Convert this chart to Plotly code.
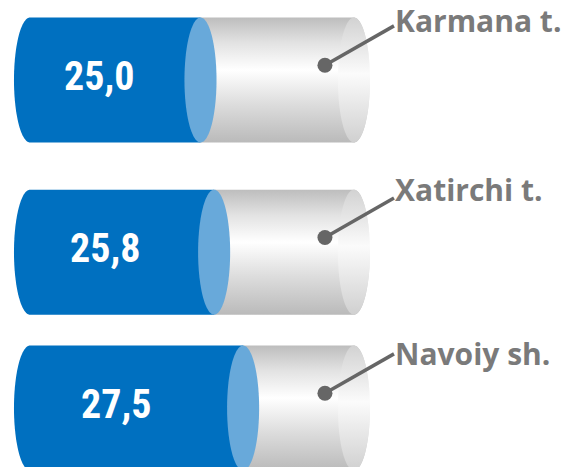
import numpy as np
import plotly.graph_objects as go

# ---- data ----
categories = ["Karmana t.", "Xatirchi t.", "Navoiy sh."]
values = [25.0, 25.8, 27.5]
scale_min = 15.0   # value at the left end of each cylinder
scale_max = 34.0   # value at the right end of each cylinder

# ---- style / layout ----
BLUE = "#0070C0"
BLUE_CAP = "#68a9da"
LEADER = "#666666"
LABEL_COLOR = "#7a7a7a"
ROW_NUDGE = [0.0, 0.05, 0.0]
LABEL_DY = [-0.36, -0.38, -0.33]
RX = 0.94      # ellipse half-width (x units)
RY = 0.381     # cylinder half-height (row units)
GREY_SCALE = [[0, "#bababa"], [0.30, "#dcdcdc"], [0.58, "#ffffff"], [0.80, "#e2e2e2"], [1, "#bdbdbd"]]
CAP_SCALE = [[0, "#d0d0d0"], [0.55, "#fbfbfb"], [1, "#d2d2d2"]]


def arc(cx, cy, t0, t1, n=80):
    t = np.linspace(t0, t1, n)
    return list(cx + RX * np.cos(t)), list(cy + RY * np.sin(t))


fig = go.Figure()

for i, (cat, v) in enumerate(zip(categories, values)):
    cy = i + ROW_NUDGE[i]
    top, bot = cy - RY, cy + RY
    xl, xb, xr = scale_min, v, scale_max

    # grey body
    ax, ay = arc(xr, cy, -np.pi / 2, np.pi / 2)
    fig.add_trace(go.Scatter(
        x=[xb] + ax + [xb], y=[top] + ay + [bot], fill="toself", mode="none",
        fillgradient=dict(type="vertical", colorscale=GREY_SCALE),
        hoverinfo="skip", showlegend=False))
    # right cap
    ex, ey = arc(xr, cy, 0, 2 * np.pi, 160)
    fig.add_trace(go.Scatter(
        x=ex, y=ey, fill="toself", mode="none",
        fillgradient=dict(type="vertical", colorscale=CAP_SCALE),
        hoverinfo="skip", showlegend=False))
    # blue body
    lx, ly = arc(xl, cy, np.pi / 2, 3 * np.pi / 2)
    fig.add_trace(go.Scatter(
        x=[xb] + lx + [xb], y=[bot] + ly + [top], fill="toself", mode="none",
        fillcolor=BLUE, hoverinfo="skip", showlegend=False))
    # blue cap
    bx, by = arc(xb, cy, 0, 2 * np.pi, 160)
    fig.add_trace(go.Scatter(
        x=bx, y=by, fill="toself", mode="none",
        fillcolor=BLUE_CAP, hoverinfo="skip", showlegend=False))

    # value label
    fig.add_annotation(
        x=xl + 0.405 * (v - xl), y=cy - 0.02, text=f"{v:.1f}".replace(".", ","),
        showarrow=False, xanchor="center", yanchor="middle",
        font=dict(family="Roboto Condensed, Liberation Sans Narrow, Roboto, sans-serif",
                  size=40, color="white", weight="bold"))

    # leader line with dot
    fig.add_trace(go.Scatter(
        x=[xr - 1.7, xr + 2.35], y=[cy - 0.09, cy - 0.33], mode="lines",
        line=dict(color=LEADER, width=3.5), hoverinfo="skip", showlegend=False))
    fig.add_trace(go.Scatter(
        x=[xr - 1.7], y=[cy - 0.09], mode="markers",
        marker=dict(color=LEADER, size=15), hoverinfo="skip", showlegend=False))

    # category label
    fig.add_annotation(
        x=xr + 2.3, y=cy + LABEL_DY[i], text=cat, showarrow=False,
        xanchor="left", yanchor="middle",
        font=dict(family="Open Sans, Noto Sans, sans-serif", size=30,
                  color=LABEL_COLOR, weight="bold"))

fig.update_layout(
    width=566, height=467,
    margin=dict(l=0, r=0, t=0, b=0),
    paper_bgcolor="white", plot_bgcolor="white",
    xaxis=dict(range=[13.24, 46.44], visible=False, fixedrange=True),
    yaxis=dict(range=[2.3598, -0.4878], visible=False, fixedrange=True),
    showlegend=False,
)

fig.write_html("out.html", config={"displayModeBar": False},
               post_script="document.body.style.margin='0';")
